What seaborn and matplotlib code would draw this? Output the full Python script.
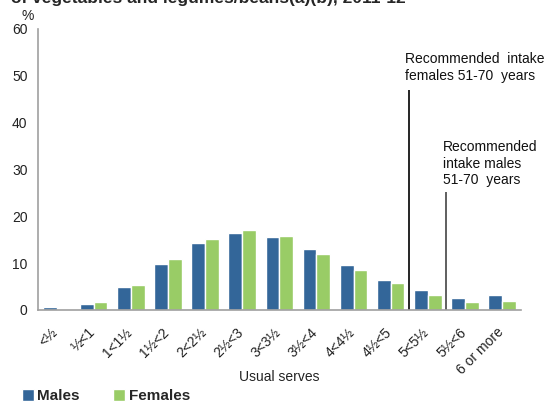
import pandas as pd
import seaborn as sns
import matplotlib.pyplot as plt
import matplotlib.transforms as mtransforms

serves = ["<½", "½<1", "1<1½", "1½<2", "2<2½", "2½<3", "3<3½",
          "3½<4", "4<4½", "4½<5", "5<5½", "5½<6", "6 or more"]
males = [0.6, 1.3, 4.9, 9.8, 14.2, 16.4, 15.5, 13.0, 9.6, 6.4, 4.3, 2.5, 3.2]
females = [0.0, 1.8, 5.4, 10.8, 15.2, 17.1, 15.7, 12.0, 8.6, 5.7, 3.2, 1.8, 2.0]

df = pd.DataFrame({"serves": serves, "Males": males, "Females": females})
df = df.melt(id_vars="serves", var_name="sex", value_name="pct")

sns.set_style("white")
plt.rcParams["font.family"] = ["Liberation Sans", "DejaVu Sans"]

fig = plt.figure(figsize=(5.51, 4.05), dpi=100)
ax = fig.add_axes([0.069, 0.2346, 0.876, 0.694])

sns.barplot(data=df, x="serves", y="pct", hue="sex", order=serves,
            palette={"Males": "#336699", "Females": "#99cc66"},
            width=0.74, saturation=1, ax=ax)

ax.set_ylim(0, 60)
ax.set_xlim(-0.5, 12.5)
ax.set_yticks(range(0, 61, 10))
ax.set_xticks(range(len(serves)))
ax.set_xticklabels(serves, rotation=45, ha="right", rotation_mode="anchor")
ax.set_xticks([i - 0.5 for i in range(len(serves) + 1)], minor=True)
ax.tick_params(axis="x", which="major", length=0, pad=11, labelsize=10, colors="#222222")
ax.tick_params(axis="x", which="minor", length=5, color="#a0a0a0", direction="out")
ax.tick_params(axis="y", length=4, color="#a0a0a0", direction="out", labelsize=10,
               colors="#222222")
shift = mtransforms.ScaledTranslation(-6 / 100, 0, fig.dpi_scale_trans)
for lab in ax.get_xticklabels():
    lab.set_transform(lab.get_transform() + shift)
for s in ["top", "right"]:
    ax.spines[s].set_visible(False)
for s in ["left", "bottom"]:
    ax.spines[s].set_color("#a0a0a0")
    ax.spines[s].set_linewidth(1.2)

ax.set_xlabel("Usual serves", fontsize=10, color="#222222")
ax.xaxis.set_label_coords(0.5, -0.238)
ax.xaxis.label.set_va("center")
ax.set_ylabel("")
ax.text(-0.035, 1.03, "%", transform=ax.transAxes, fontsize=10, color="#222222")

# recommended intake markers
ax.vlines(9.5, 0, 47, color="black", lw=1.2)
ax.vlines(10.5, 0, 25.2, color="#444444", lw=1.2)
ax.text(9.38, 55, "Recommended  intake\nfemales 51-70  years", fontsize=10,
        va="top", ha="left", color="#111111", linespacing=1.2)
ax.text(10.4, 36.2, "Recommended\nintake males\n51-70  years", fontsize=10,
        va="top", ha="left", color="#111111", linespacing=1.2)

ax.legend(loc="lower left", bbox_to_anchor=(-0.062, -0.38), ncol=2, frameon=False,
          handlelength=0.8, handleheight=0.8, handletextpad=0.2, columnspacing=2.2,
          prop={"weight": "bold", "size": 11})

# title is cropped at the top of the original image
fig.text(0.02, 1.004, "of vegetables and legumes/beans(a)(b), 2011-12",
         fontsize=12.5, fontweight="bold", va="center", ha="left")

fig.savefig("out.png", dpi=100)
